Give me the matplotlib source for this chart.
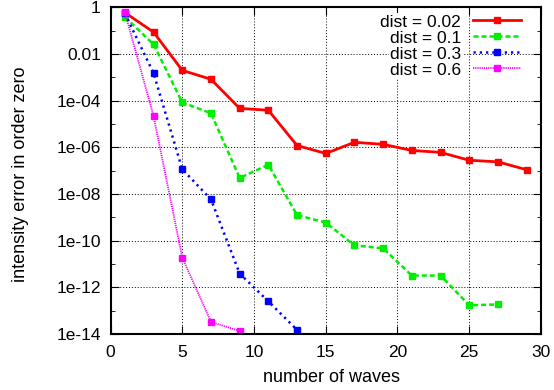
import math
import matplotlib
matplotlib.use('Agg')
import matplotlib.pyplot as plt
from matplotlib.ticker import FixedLocator, FuncFormatter, NullFormatter

plt.rcParams['font.family'] = ['Liberation Sans', 'DejaVu Sans']

# numero de ondas
waves = [1, 3, 5, 7, 9, 11, 13, 15, 17, 19, 21, 23, 25, 27, 29]

err_002 = [0.6, 0.087, 2.0e-3, 8.3e-4, 4.7e-5, 3.9e-5, 1.2e-6, 5.5e-7,
           1.65e-6, 1.35e-6, 7.4e-7, 6.1e-7, 2.8e-7, 2.4e-7, 1.1e-7]
err_01 = [0.39, 0.026, 8.5e-5, 2.9e-5, 4.9e-8, 1.8e-7, 1.25e-9, 6.0e-10,
          6.3e-11, 4.7e-11, 3.2e-12, 3.2e-12, 1.7e-13, 1.85e-13]
err_03 = [0.55, 1.5e-3, 1.15e-7, 5.9e-9, 3.9e-12, 2.5e-13, 1.5e-14]
err_06 = [0.62, 2.2e-5, 1.9e-11, 3.3e-14, 1.35e-14]

labels = ['dist = 0.02', 'dist = 0.1', 'dist = 0.3', 'dist = 0.6']

fig = plt.figure(figsize=(5.54, 3.90), dpi=100)
ax = fig.add_axes([0.1995, 0.1436, 0.777, 0.8374])

ax.plot(waves[:len(err_002)], err_002, color='#ff0000', lw=2.0, ls='-',
        marker='s', ms=3.8, label=labels[0])
ax.plot(waves[:len(err_01)], err_01, color='#00ee00', lw=1.8, ls=(0, (2.0, 1.2)),
        marker='s', ms=3.8, label=labels[1])
ax.plot(waves[:len(err_03)], err_03, color='#0000ff', lw=1.8, ls=(0, (0.9, 1.6)),
        marker='s', ms=3.8, label=labels[2])
ax.plot(waves[:len(err_06)], err_06, color='#ff00ff', lw=1.3, ls=(0, (0.7, 0.5)),
        marker='s', ms=3.8, label=labels[3])

ax.set_yscale('log')
ax.set_xlim(0, 30)
ax.set_ylim(1e-14, 1)

major_y = [10.0 ** (-k) for k in range(0, 15, 2)]
minor_y = [10.0 ** (-k) for k in range(1, 14, 2)]
ax.yaxis.set_major_locator(FixedLocator(major_y))
ax.yaxis.set_minor_locator(FixedLocator(minor_y))
ax.yaxis.set_minor_formatter(NullFormatter())

def fmt_y(v, pos):
    if v >= 0.5:
        return '1'
    if abs(v - 0.01) < 1e-4:
        return '0.01'
    e = int(round(-math.log10(v)))
    return '1e-%02d' % e

ax.yaxis.set_major_formatter(FuncFormatter(fmt_y))
ax.set_xticks([0, 5, 10, 15, 20, 25, 30])

ax.tick_params(which='both', direction='in', top=True, right=True,
               labelsize=12.5)
ax.tick_params(axis='x', pad=8)
ax.tick_params(axis='y', pad=7)
ax.tick_params(which='major', length=6)
ax.tick_params(which='minor', length=3)

ax.grid(True, which='major', color='black', ls=(0, (1, 2)), lw=0.7)
ax.set_axisbelow(True)
for s in ax.spines.values():
    s.set_linewidth(1.5)

ax.set_xlabel('number of waves', fontsize=13)
ax.set_ylabel('intensity error in order zero', fontsize=13)
ax.xaxis.label.set_va('center')
ax.yaxis.label.set_va('center')
ax.xaxis.set_label_coords(0.514, -0.132)
ax.yaxis.set_label_coords(-0.210, 0.49)

leg = ax.legend(loc='upper right', bbox_to_anchor=(0.970, 1.0),
                markerfirst=False, frameon=False,
                fontsize=12.5, handlelength=2.8, handletextpad=0.65,
                labelspacing=0.05, borderaxespad=0.0)
for t in leg.get_texts():
    t.set_bbox(dict(facecolor='white', edgecolor='none', pad=1))

fig.savefig('out.png', dpi=100)
